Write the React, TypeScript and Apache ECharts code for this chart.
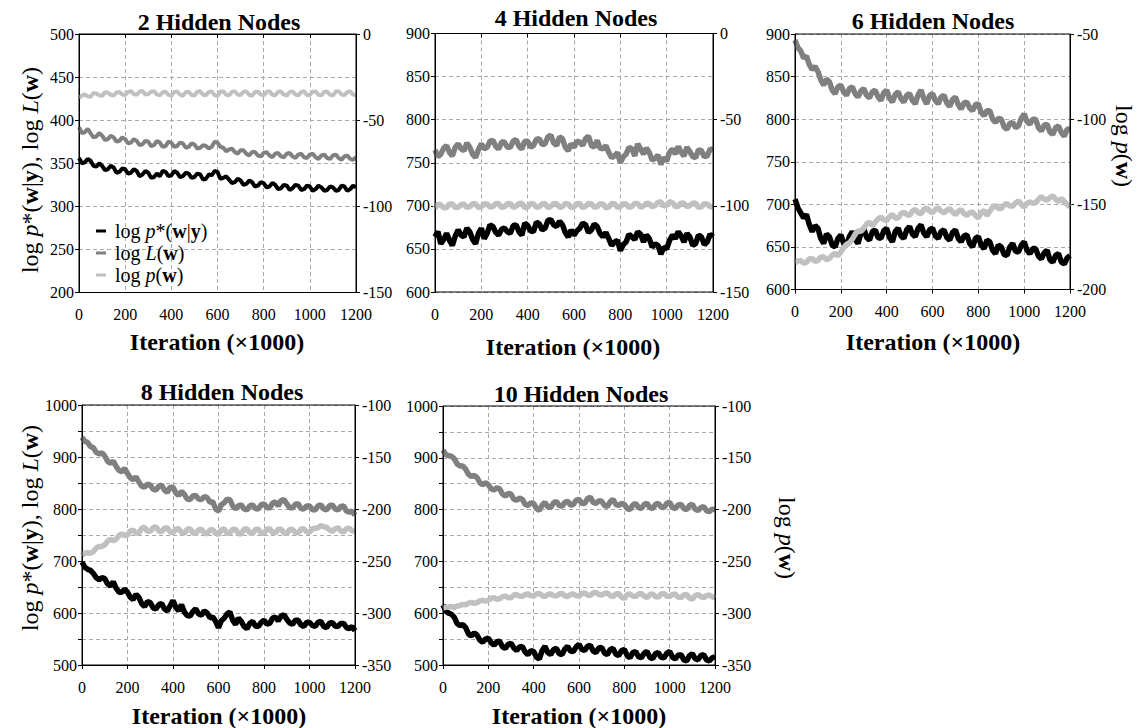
import React, { useEffect, useRef } from 'react';
import * as echarts from 'echarts';

// ---------- DATA ----------
// samples on the whole 25k grid (A) and the in-between samples (B, at +12.5k)
const ITER_A = [0,25,50,75,100,125,150,175,200,225,250,275,300,325,350,375,400,425,450,475,500,525,550,575,600,625,650,675,700,725,750,775,800,825,850,875,900,925,950,975,1000,1025,1050,1075,1100,1125,1150,1175,1200];
const ITER_B = [12.5,37.5,62.5,87.5,112.5,137.5,162.5,187.5,212.5,237.5,262.5,287.5,312.5,337.5,362.5,387.5,412.5,437.5,462.5,487.5,512.5,537.5,562.5,587.5,612.5,637.5,662.5,687.5,712.5,737.5,762.5,787.5,812.5,837.5,862.5,887.5,912.5,937.5,962.5,987.5,1012.5,1037.5,1062.5,1087.5,1112.5,1137.5,1162.5,1187.5];

const PANEL_TITLES = ['2 Hidden Nodes', '4 Hidden Nodes', '6 Hidden Nodes', '8 Hidden Nodes', '10 Hidden Nodes'];

// 2 hidden nodes
const P1_POST_A = [356,351,353,346,347,343,345,340,343,339,341,337, 339,334,335,340,336,339,335,338,334,337,332,336, 340,333,331,328,330,326,328,324,327,323,325,321, 324,321,324,320,323,320,322,319,322,319,323,320,322];
const P1_POST_B = [350,355,347,350,342,347,339,344,338,343,335,341, 333,338,341,335,341,334,339,333,338,331,337,341, 332,335,327,332,325,330,323,328,322,327,320,325, 319,325,319,324,318,324,318,323,318,324,318,324];
const P1_LIK_A = [392,386,385,381,382,378,380,376,378,374,376,372, 375,371,374,370,374,370,373,369,372,368,370,369, 374,368,366,363,365,361,363,359,362,359,361,358, 361,358,360,357,360,357,359,356,359,356,358,355,357];
const P1_LIK_B = [385,390,380,385,377,382,375,380,373,378,371,376, 370,376,369,375,369,374,368,373,367,371,367,375, 369,364,367,361,365,359,363,358,363,357,362,357, 362,356,361,356,361,355,360,355,360,354,359,354];
const P1_PRIOR_A = [-37,-35,-36.5,-34.5,-36,-34,-35.8,-33.6,-35.4,-33.2,-35.2,-33, -34.8,-33.2,-35.6,-33.4,-35.8,-33.4,-35.9,-33.5,-35.7,-33.2,-35.5,-33.4, -35.9,-33.3,-35.6,-33.2,-35.5,-33.3,-35.8,-33.4,-35.6,-33.2,-35.5,-33.4, -35.8,-33.3,-35.6,-33.2,-35.4,-33.3,-35.6,-33.4,-35.8,-33.2,-35.4,-33.3,-35.6];
const P1_PRIOR_B = [-35.8,-36.2,-34.2,-35.6,-33.8,-35.3,-33.9,-35.1,-33.6,-34.9,-33.4,-35.2, -33.5,-35.0,-33.8,-35.3,-33.6,-35.1,-33.8,-35.4,-33.5,-35.2,-33.6,-35.5, -33.4,-35.3,-33.6,-35.1,-33.5,-35.4,-33.7,-35.2,-33.6,-35.3,-33.5,-35.2, -33.6,-35.1,-33.7,-35.4,-33.5,-35.3,-33.6,-35.2,-33.4,-35.1,-33.7,-35.2];

// 4 hidden nodes
const P2_POST_A = [664,656,668,654,672,664,670,656,674,668,676,666, 674,668,678,666,677,670,679,674,684,676,678,664, 666,674,678,672,676,664,662,658,648,658,664,670, 658,662,656,644,650,666,670,658,664,656,664,658,664];
const P2_POST_B = [670,661,660,665,666,674,661,668,662,678,669,673, 670,677,670,680,671,681,672,683,678,682,669,672, 671,680,669,679,668,669,654,660,655,667,661,667, 666,652,654,652,660,662,665,668,654,666,655,667];
const P2_LIK_A = [765,760,770,758,772,764,768,756,772,768,776,766, 774,768,777,766,775,770,778,772,782,770,778,764, 768,774,778,770,776,766,762,758,750,760,766,772, 760,762,755,748,752,766,769,758,763,756,764,758,765];
const P2_LIK_B = [757,767,762,768,766,773,760,765,766,775,769,774, 768,775,769,775,768,777,771,780,773,780,768,772, 775,770,781,768,767,770,756,762,757,768,758,766, 767,753,759,756,762,760,762,768,757,765,757,766];
const P2_PRIOR_A = [-101.5,-99.5,-101,-99,-100.8,-99,-100.5,-98.8,-100.6,-98.9,-100.4,-98.7, -100.5,-98.6,-100.2,-98.5,-100.6,-98.9,-100.5,-98.7,-100.3,-98.8,-100.4,-98.9, -100.6,-98.7,-100.3,-98.8,-100.5,-98.9,-100.6,-98.8,-100.4,-98.9,-100.3,-98.6, -100.2,-98.7,-99.8,-97.8,-99.5,-98.2,-100.2,-98.5,-99.8,-98.3,-100.6,-99,-100.8];
const P2_PRIOR_B = [-99,-101.2,-98.9,-101,-99.2,-100.9,-98.8,-101.1,-99,-100.7,-98.6,-101, -98.8,-100.9,-98.6,-101.2,-98.7,-100.8,-98.9,-101.1,-98.6,-100.9,-98.7,-101, -98.8,-101.1,-98.6,-100.9,-98.8,-101.2,-98.7,-100.9,-98.8,-101,-98.7,-100.8, -98.5,-100.6,-97.9,-100.2,-97.6,-100.4,-98.3,-100.6,-98.5,-100.9,-98.7,-100.4];

// 6 hidden nodes
const P3_POST_A = [706,690,688,668,672,654,662,650,664,652,668,654, 672,658,670,660,672,656,672,660,674,662,676,662, 672,660,670,658,670,656,664,650,662,648,656,642, 650,640,654,644,656,642,648,636,646,632,642,630,640];
const P3_POST_B = [696,684,676,675,660,665,652,660,654,662,659,666, 661,668,661,669,661,668,663,670,665,672,666,670, 663,668,661,667,660,663,654,660,652,658,646,652, 641,650,645,652,646,648,639,643,635,640,632,637];
const P3_LIK_A = [893,880,874,858,856,840,844,830,840,828,838,826, 836,825,834,822,834,820,832,820,830,818,834,818, 830,818,828,815,826,812,820,810,818,804,810,796, 800,788,796,792,806,794,800,786,794,782,792,780,789];
const P3_LIK_B = [884,872,864,862,846,847,834,838,832,836,830,833, 828,832,826,831,825,829,824,828,822,829,824,828, 822,826,819,823,817,819,813,817,808,810,800,801, 791,795,790,801,797,800,790,793,785,790,784,788];
const P3_PRIOR_A = [-184.5,-183,-184,-181.8,-183,-180.8,-181.8,-178.8,-178,-173.5,-170.5,-165.5, -164,-160.5,-160.5,-157.5,-159.5,-156,-158,-154.5,-156.5,-153,-155.5,-152, -155,-152,-155,-152.5,-156,-153,-156.5,-154.5,-158,-153.5,-154,-150.5, -152.5,-149.5,-151,-148,-151.5,-148.5,-149,-145.5,-147.5,-145,-148.5,-148.5,-151.5];
const P3_PRIOR_B = [-183.2,-184.5,-182,-183.5,-181,-182.5,-179.8,-180.2,-175.5,-172.5,-167.5,-166, -161.5,-162.5,-158.5,-159,-157.2,-158,-155.5,-156,-154,-155,-153,-154, -153,-154,-153.5,-154.5,-154.2,-155.5,-155,-156.5,-155,-156.5,-151.8,-152.5, -150.5,-151,-149.2,-150,-149.5,-149.5,-147,-147,-146,-147,-146.5,-150.2];

// 8 hidden nodes
const P4_POST_A = [698,684,676,664,666,652,648,640,640,626,630,612, 620,608,618,604,624,604,602,594,608,596,600,592, 572,590,602,578,584,570,584,574,586,580,592,594, 588,578,586,574,582,574,584,572,582,574,580,570,566];
const P4_POST_B = [688,682,668,668,656,660,640,646,630,636,618,622, 610,616,608,614,611,616,595,603,598,604,591,584, 585,598,586,590,574,580,575,582,579,590,585,597, 581,586,577,582,576,582,574,580,575,580,572,574];
const P4_LIK_A = [938,928,918,906,902,888,882,872,868,856,852,842, 846,836,846,832,842,826,828,818,826,818,822,814, 796,812,818,800,808,798,808,800,810,802,814,816, 810,802,810,800,806,798,808,798,808,798,806,794,788];
const P4_LIK_B = [930,920,909,908,892,892,874,878,860,862,844,848, 838,844,836,842,831,834,819,825,819,824,813,800, 808,819,806,806,800,806,801,808,803,811,806,818, 803,809,801,806,799,806,800,806,800,805,796,796];
const P4_PRIOR_A = [-244.5,-242,-241,-236,-234.5,-229,-229,-224,-225,-220.5,-223,-217.5, -221.5,-217,-222,-218,-223,-219,-223.5,-219,-223.5,-219.5,-224,-220, -224.5,-219,-223,-219.5,-224,-219,-223.5,-219.5,-223.5,-219,-223,-219.5, -223.5,-219.5,-223,-219,-222.5,-218.5,-216,-217.5,-221.5,-218,-222,-218.5,-221.5];
const P4_PRIOR_B = [-242.5,-242.5,-237.5,-236,-231,-230.5,-225.5,-225.5,-221,-223,-218.5,-221.5, -218,-221,-218.5,-222,-219.5,-222.5,-219.5,-223,-220,-223,-220,-223.5, -220,-223.5,-219.5,-223.5,-219.5,-223,-219.5,-223,-219.5,-222.5,-219.5,-223, -220,-222.5,-219.5,-222,-219,-218,-217,-220,-219,-221,-219,-221];

// 10 hidden nodes
const P5_POST_A = [616,600,592,576,572,556,558,544,552,538,546,532, 542,528,536,520,526,512,536,520,532,520,536,526, 540,528,538,524,534,520,532,518,530,514,526,514, 526,512,524,514,526,512,520,508,522,510,520,508,516];
const P5_POST_B = [604,598,580,578,560,562,548,550,543,545,535,540, 533,535,525,528,515,528,524,530,522,531,527,535, 530,536,527,533,523,530,521,528,518,524,516,523, 515,522,515,523,515,519,510,518,512,518,510,514];
const P5_LIK_A = [915,904,898,884,878,864,862,848,848,838,840,826, 830,818,820,808,812,798,814,804,816,806,816,810, 820,812,824,812,816,806,820,808,810,800,812,802, 812,802,812,804,814,802,810,800,810,798,806,796,800];
const P5_LIK_B = [906,903,888,884,868,866,852,852,840,842,830,831, 820,822,810,813,802,809,805,813,808,814,809,818, 812,821,814,817,808,815,810,812,802,809,804,810, 804,810,805,812,804,809,802,808,801,804,798,801];
const P5_PRIOR_A = [-295,-294,-294.5,-292.5,-292,-289.5,-290,-287.5,-287.5,-285,-286,-283.5, -285,-282,-284,-281.5,-283.5,-281,-284,-281.5,-283.5,-281,-284,-281.5, -283.5,-280.5,-283,-280,-282.5,-280.5,-284,-281,-286,-281.5,-284,-281, -285,-281.5,-284.5,-281,-284,-281.5,-285,-282,-286.5,-282,-285,-282.5,-285.5];
const P5_PRIOR_B = [-294.2,-293.5,-293,-291.5,-290.2,-290.5,-288,-288.5,-285.5,-286.5,-284,-285, -282.5,-283.5,-282,-283,-281.5,-283,-282,-283,-281.5,-283.2,-282,-283, -281,-282.5,-280.5,-282,-281,-283,-281.5,-284.5,-282,-283.5,-281.5,-283.5, -282,-284,-281.5,-283.5,-282,-284.5,-282.5,-285.5,-283,-284,-283,-284];

const POSTERIOR = [[P1_POST_A, P1_POST_B], [P2_POST_A, P2_POST_B], [P3_POST_A, P3_POST_B], [P4_POST_A, P4_POST_B], [P5_POST_A, P5_POST_B]];
const LIKELIHOOD = [[P1_LIK_A, P1_LIK_B], [P2_LIK_A, P2_LIK_B], [P3_LIK_A, P3_LIK_B], [P4_LIK_A, P4_LIK_B], [P5_LIK_A, P5_LIK_B]];
const PRIOR = [[P1_PRIOR_A, P1_PRIOR_B], [P2_PRIOR_A, P2_PRIOR_B], [P3_PRIOR_A, P3_PRIOR_B], [P4_PRIOR_A, P4_PRIOR_B], [P5_PRIOR_A, P5_PRIOR_B]];

// axis ranges [min, max]
const LEFT_RANGES = [[200, 500], [600, 900], [600, 900], [500, 1000], [500, 1000]];
const RIGHT_RANGES = [[-150, 0], [-150, 0], [-200, -50], [-350, -100], [-350, -100]];
const LEFT_LABEL_STEPS = [50, 50, 50, 100, 100];

// ---------- LAYOUT ----------
const FONT = 'Liberation Serif';
const GRIDS = [
  { left: 79, top: 34, width: 277, height: 258.5 },
  { left: 435, top: 33.5, width: 278, height: 258.5 },
  { left: 795, top: 34, width: 275, height: 255.5 },
  { left: 82, top: 405, width: 273, height: 260 },
  { left: 443, top: 406, width: 272, height: 259 },
];
const LINE_WIDTHS = [4, 5.5, 5.5, 5.5, 5.5];
const TITLE_POS = [[219, 22], [576, 18], [933, 21], [222, 392], [581, 394]];
const XTITLE_POS = [[217, 342], [573, 347], [933, 342], [219, 716], [579, 716]];
const COLORS = { post: '#000000', lik: '#808080', prior: '#c0c0c0' };

const RICH = (size: number) => ({
  n: { fontFamily: FONT, fontSize: size, fill: '#000', color: '#000' },
  i: { fontFamily: FONT, fontSize: size, fontStyle: 'italic', fill: '#000', color: '#000' },
  b: { fontFamily: FONT, fontSize: size, fontWeight: 'bold', fill: '#000', color: '#000' },
});
const TICK_RICH = { t: { fontFamily: FONT, fontSize: 16, color: '#000' } };

const LEFT_TITLE = '{n|log }{i|p}{n|*(}{b|w}{n||}{b|y}{n|), log }{i|L}{n|(}{b|w}{n|)}';
const RIGHT_TITLE = '{n|log }{i|p}{n|(}{b|w}{n|)}';

function textEl(x: number, y: number, text: string, size: number, rotation = 0, rich = false, bold = false) {
  return {
    type: 'text',
    x, y, rotation, z: 50,
    style: {
      text,
      fontFamily: FONT,
      fontSize: size,
      fontWeight: bold ? 'bold' : 'normal',
      fill: '#000',
      align: 'center', verticalAlign: 'middle',
      textAlign: 'center', textVerticalAlign: 'middle',
      ...(rich ? { rich: RICH(size) } : {}),
    },
  };
}

// put the A samples and B samples in iteration order
function toPoints(pair: number[][]) {
  const [a, b] = pair;
  const pts: number[][] = [];
  for (let k = 0; k < a.length; k++) {
    pts.push([ITER_A[k], a[k]]);
    if (k < b.length) pts.push([ITER_B[k], b[k]]);
  }
  return pts;
}

export default function App() {
  const ref = useRef<HTMLDivElement>(null);
  useEffect(() => {
    if (!ref.current) return;
    const chart = echarts.init(ref.current, null, { renderer: 'svg' });

    const grid = GRIDS.map((g) => ({ ...g, show: false, containLabel: false }));

    const xAxis = GRIDS.map((_, i) => ({
      type: 'value', gridIndex: i, min: 0, max: 1200, interval: 200,
      axisLine: { show: true, lineStyle: { color: '#000', width: 1 } },
      axisTick: { show: true, inside: false, length: 4, lineStyle: { color: '#000' } },
      axisLabel: {
        margin: 14, color: '#000', fontFamily: FONT, fontSize: 16, showMinLabel: true, showMaxLabel: true,
        formatter: (v: number) => `{t|${v}}`, rich: TICK_RICH,
      },
      splitLine: { show: true, lineStyle: { color: '#a8a8a8', type: [4, 3], width: 1 } },
    }));

    const yAxis: any[] = [];
    GRIDS.forEach((_, i) => {
      const step = LEFT_LABEL_STEPS[i];
      yAxis.push({
        type: 'value', gridIndex: i, position: 'left',
        min: LEFT_RANGES[i][0], max: LEFT_RANGES[i][1], interval: 50,
        axisLine: { show: true, lineStyle: { color: '#000', width: 1 } },
        axisTick: { show: true, inside: false, length: 4, lineStyle: { color: '#000' } },
        axisLabel: {
          margin: 5, color: '#000', fontFamily: FONT, fontSize: 16, rich: TICK_RICH,
          formatter: (v: number) => (v % step === 0 ? `{t|${v}}` : ''),
        },
        splitLine: { show: true, lineStyle: { color: '#a8a8a8', type: [4, 3], width: 1 } },
      });
      yAxis.push({
        type: 'value', gridIndex: i, position: 'right',
        min: RIGHT_RANGES[i][0], max: RIGHT_RANGES[i][1], interval: 50,
        axisLine: { show: true, lineStyle: { color: '#000', width: 1 } },
        axisTick: { show: true, inside: false, length: 4, lineStyle: { color: '#000' } },
        axisLabel: { margin: 7, color: '#000', fontFamily: FONT, fontSize: 16, rich: TICK_RICH, formatter: (v: number) => `{t|${v}}` },
        splitLine: { show: false },
      });
    });

    const series: any[] = [];
    GRIDS.forEach((_, i) => {
      const mk = (pair: number[][], color: string, yIdx: number, name: string) => ({
        type: 'line', name,
        xAxisIndex: i, yAxisIndex: yIdx,
        data: toPoints(pair),
        showSymbol: false, symbol: 'none',
        lineStyle: { color, width: LINE_WIDTHS[i] },
        itemStyle: { color },
        silent: true,
      });
      series.push(mk(POSTERIOR[i], COLORS.post, 2 * i, 'post'));
      series.push(mk(LIKELIHOOD[i], COLORS.lik, 2 * i, 'lik'));
      series.push(mk(PRIOR[i], COLORS.prior, 2 * i + 1, 'prior'));
    });

    const graphic: any[] = [];
    GRIDS.forEach((g) => {
      graphic.push({
        type: 'rect', z: 40, silent: true,
        shape: { x: g.left, y: g.top, width: g.width, height: g.height },
        style: { fill: 'none', stroke: '#000', lineWidth: 1 },
      });
    });
    PANEL_TITLES.forEach((t, i) => {
      graphic.push(textEl(TITLE_POS[i][0], TITLE_POS[i][1], t, 24, 0, false, true));
      graphic.push(textEl(XTITLE_POS[i][0], XTITLE_POS[i][1], 'Iteration (×1000)', 24, 0, false, true));
    });
    graphic.push(textEl(30, 170, LEFT_TITLE, 24, Math.PI / 2, true));
    graphic.push(textEl(30, 528, LEFT_TITLE, 24, Math.PI / 2, true));
    graphic.push(textEl(1124, 146, RIGHT_TITLE, 24, -Math.PI / 2, true));
    graphic.push(textEl(787, 538, RIGHT_TITLE, 24, -Math.PI / 2, true));

    // legend in first panel
    const legendItems = [
      { text: '{n|log }{i|p}{n|*(}{b|w}{n||}{b|y}{n|)}', color: COLORS.post, y: 231 },
      { text: '{n|log }{i|L}{n|(}{b|w}{n|)}', color: COLORS.lik, y: 253 },
      { text: '{n|log }{i|p}{n|(}{b|w}{n|)}', color: COLORS.prior, y: 275 },
    ];
    legendItems.forEach((it) => {
      graphic.push({ type: 'line', z: 50, shape: { x1: 96, y1: it.y, x2: 106, y2: it.y }, style: { stroke: it.color, lineWidth: 3 } });
      graphic.push({
        type: 'text', x: 115, y: it.y, z: 50,
        style: { text: it.text, rich: RICH(20), fontFamily: FONT, fontSize: 20, fill: '#000', align: 'left', verticalAlign: 'middle', textAlign: 'left', textVerticalAlign: 'middle' },
      });
    });

    chart.setOption({
      animation: false,
      backgroundColor: '#ffffff',
      textStyle: { fontFamily: FONT },
      grid, xAxis, yAxis, series, graphic,
    });
    return () => chart.dispose();
  }, []);

  return <div ref={ref} style={{ position: 'absolute', left: 0, top: 0, width: 1139, height: 728 }} />;
}
